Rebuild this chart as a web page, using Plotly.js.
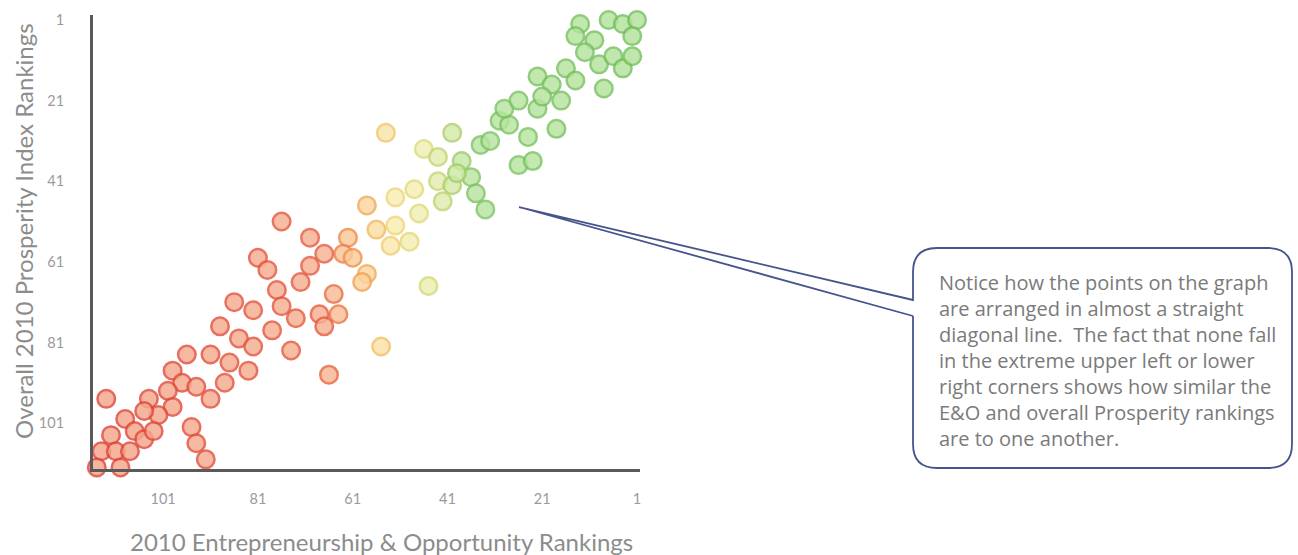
<!DOCTYPE html>
<html>
<head>
<meta charset="utf-8">
<script src="https://cdn.plot.ly/plotly-3.0.1.min.js"></script>
<style>html,body{margin:0;padding:0;background:#fff;}#chart{width:1298px;height:555px;}</style>
</head>
<body>
<div id="chart"></div>
<script>
// 2010 Entrepreneurship & Opportunity ranking (x) vs Overall 2010 Prosperity Index ranking (y)
const eoRank = [
  40,38,36,35,33,34,32,30,28,26,23,24,18,29,26,22,22,19,21,17,16,14,13,14,10,12,9,6,4,2,8,7,4,1,2,
  52,48,52,49,53,47,46,43,43,40,42,39,45,
  62,63,61,58,59,65,64,58,56,54,55,
  76,81,79,70,67,70,72,77,76,86,82,73,68,67,89,85,82,78,74,66,96,91,87,83,99,97,94,88,91,100,
  104,99,102,105,113,109,112,107,105,103,95,94,92,114,111,108,115,110
];
const prosperityRank = [
  29,36,40,44,48,32,31,26,27,37,36,30,28,23,21,23,15,17,20,21,13,16,2,5,6,9,12,10,13,10,18,1,2,1,5,
  45,43,52,56,57,49,33,35,41,42,46,39,67,
  55,59,60,64,66,69,74,47,53,29,82,
  51,60,63,55,59,62,66,68,72,71,73,75,74,77,77,80,82,78,83,89,84,84,86,88,88,91,92,91,95,93,
  95,97,99,98,95,100,104,103,105,103,102,106,110,108,108,108,112,112
];
const xTicks = [101, 81, 61, 41, 21, 1];
const yTicks = [1, 21, 41, 61, 81, 101];
const xTitle = '2010 Entrepreneurship &amp; Opportunity Rankings';
const yTitle = 'Overall 2010 Prosperity Index Rankings';
const calloutText = 'Notice how the points on the graph<br>are arranged in almost a straight<br>diagonal line.  The fact that none fall<br>in the extreme upper left or lower<br>right corners shows how similar the<br>E&amp;O and overall Prosperity rankings<br>are to one another.';

const W = 1298, H = 555;
const M = {l: 93, r: 658, t: 15, b: 86};
const PW = W - M.l - M.r, PH = H - M.t - M.b;
const px = v => (v - M.l) / PW;
const py = v => (H - M.b - v) / PH;

// callout geometry (pixels)
const bx0 = 913, bx1 = 1292, by0 = 248, by1 = 468, rr = 24;
const tipX = 519, tipY = 207;
const P = (x, y) => px(x).toFixed(5) + ',' + py(y).toFixed(5);
const calloutPath =
  'M' + P(bx0, 316) +
  ' L' + P(bx0, by1 - rr) +
  ' Q' + P(bx0, by1) + ' ' + P(bx0 + rr, by1) +
  ' L' + P(bx1 - rr, by1) +
  ' Q' + P(bx1, by1) + ' ' + P(bx1, by1 - rr) +
  ' L' + P(bx1, by0 + rr) +
  ' Q' + P(bx1, by0) + ' ' + P(bx1 - rr, by0) +
  ' L' + P(bx0 + rr, by0) +
  ' Q' + P(bx0, by0) + ' ' + P(bx0, by0 + rr) +
  ' L' + P(bx0, 300) +
  ' L' + P(tipX, tipY) +
  ' L' + P(bx0, 316);

const lineScale = [
  [0.000, '#74c05c'], [0.300, '#7ec465'], [0.345, '#b0d16c'], [0.395, '#dcdc78'],
  [0.447, '#eed678'], [0.485, '#f2b860'], [0.535, '#ee8a4a'], [0.580, '#e65c40'], [1.000, '#df443a']
];
const fillScale = [
  [0.000, '#b2e29c'], [0.300, '#b8e4a0'], [0.345, '#d6eaa8'], [0.395, '#f0efb4'],
  [0.447, '#f8edb0'], [0.485, '#fcdca2'], [0.535, '#fbc898'], [0.580, '#f6b092'], [1.000, '#f4a58a']
];

const trace = {
  type: 'scatter',
  mode: 'markers',
  x: eoRank,
  y: prosperityRank,
  cliponaxis: false,
  hoverinfo: 'x+y',
  marker: {
    size: 17.5,
    opacity: 0.82,
    color: eoRank,
    colorscale: fillScale,
    cmin: 1, cmax: 115,
    line: {width: 2.5, color: eoRank, colorscale: lineScale, cmin: 1, cmax: 115}
  }
};

const baseFont = 'Lato, "Open Sans", sans-serif';
const tickFont = {family: baseFont, size: 14.5, color: '#9a9a9a'};
const titleFont = {family: baseFont, size: 24, color: '#8c8c8c'};

const layout = {
  width: W, height: H,
  margin: M,
  paper_bgcolor: '#ffffff',
  plot_bgcolor: '#ffffff',
  showlegend: false,
  xaxis: {
    range: [115.8, 0.37],
    tickvals: xTicks, ticktext: xTicks.map(String),
    showgrid: false, zeroline: false,
    showline: true, linecolor: '#5a5a5a', linewidth: 3,
    ticks: '', tickfont: tickFont, ticklabelstandoff: 15,
    automargin: false
  },
  yaxis: {
    range: [112.4, -0.24],
    tickvals: yTicks, ticktext: yTicks.map(String),
    showgrid: false, zeroline: false,
    showline: true, linecolor: '#5a5a5a', linewidth: 3,
    ticks: '', tickfont: tickFont, ticklabelstandoff: 23,
    automargin: false
  },
  shapes: [{
    type: 'path', xref: 'paper', yref: 'paper',
    path: calloutPath,
    line: {color: '#44558c', width: 1.8}
  }],
  annotations: [
    {
      xref: 'paper', yref: 'paper',
      x: px(381), y: py(541), xanchor: 'center', yanchor: 'middle',
      showarrow: false, text: xTitle, font: titleFont
    },
    {
      xref: 'paper', yref: 'paper',
      x: px(23), y: py(231), xanchor: 'center', yanchor: 'middle',
      textangle: -90, showarrow: false, text: yTitle, font: titleFont
    },
    {
      xref: 'paper', yref: 'paper',
      x: px(937), y: py(267),
      xanchor: 'left', yanchor: 'top', align: 'left',
      showarrow: false,
      text: calloutText,
      font: {family: '"Open Sans", Lato, sans-serif', size: 20, color: '#7a7a7a'}
    }
  ]
};

Plotly.newPlot('chart', [trace], layout, {displayModeBar: false, staticPlot: true});
</script>
</body>
</html>
